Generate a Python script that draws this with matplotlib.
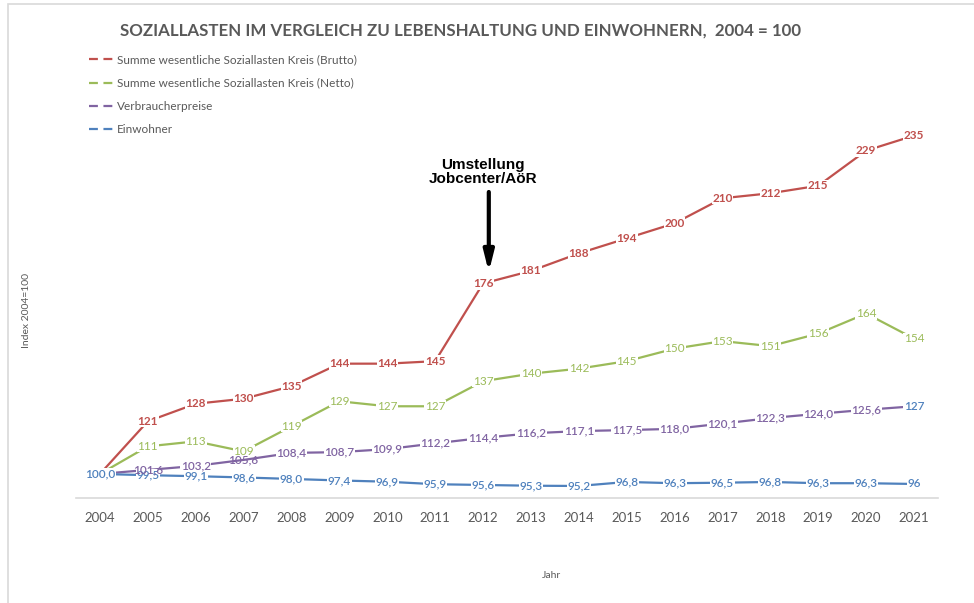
import matplotlib
matplotlib.use('Agg')
import matplotlib.pyplot as plt
from matplotlib.lines import Line2D
from matplotlib.patches import Rectangle

years = list(range(2004, 2022))
brutto = [100, 121, 128, 130, 135, 144, 144, 145, 176, 181, 188, 194, 200, 210, 212, 215, 229, 235]
netto = [100, 111, 113, 109, 119, 129, 127, 127, 137, 140, 142, 145, 150, 153, 151, 156, 164, 154]
vpi = [100.0, 101.6, 103.2, 105.6, 108.4, 108.7, 109.9, 112.2, 114.4, 116.2, 117.1, 117.5,
       118.0, 120.1, 122.3, 124.0, 125.6, 127]
einwohner = [100.0, 99.5, 99.1, 98.6, 98.0, 97.4, 96.9, 95.9, 95.6, 95.3, 95.2, 96.8,
             96.3, 96.5, 96.8, 96.3, 96.3, 96]
names = ['Summe wesentliche Soziallasten Kreis (Brutto)',
         'Summe wesentliche Soziallasten Kreis (Netto)',
         'Verbraucherpreise', 'Einwohner']
colors = ['#C0504D', '#9BBB59', '#8064A2', '#4F81BD']

plt.rcParams['font.family'] = ['Lato', 'DejaVu Sans']

fig = plt.figure(figsize=(9.74, 6.03), dpi=100)
fig.patches.append(Rectangle((8 / 974, -0.01), 1.0, 1 - 4 / 603 + 0.01, transform=fig.transFigure,
                             fill=False, edgecolor='#D9D9D9', linewidth=1.2))
ax = fig.add_axes([76 / 974, 1 - 498 / 603, (938 - 76) / 974, 400 / 603])


def fmt(v, dec, last):
    if not dec or last:
        return '%d' % round(v)
    return ('%.1f' % v).replace('.', ',')


# (values, decimals, weight, label z-order) - purple labels sit on top where they collide
series = [(brutto, False, 'bold', 6), (netto, False, 'normal', 6),
          (vpi, True, 'semibold', 7), (einwohner, True, 'semibold', 5)]
for i, (vals, dec, wt, z) in enumerate(series):
    c = colors[i]
    ax.plot(years, vals, color=c, lw=1.6, zorder=2, solid_capstyle='butt')
    for j, (x, v) in enumerate(zip(years, vals)):
        # the four series all start at 100 - only one label is readable there
        if j == 0 and i != 3:
            continue
        tc = c
        if i == 2 and j == len(vals) - 1:
            tc = colors[3]
        box = dict(boxstyle='square,pad=0.05', fc='white', ec='none')
        if i == 2 and j in (1, 3):
            box = None  # crowded spots: let the label sit over its neighbour
        ax.text(x, v, fmt(v, dec, j == len(vals) - 1), color=tc, fontsize=8.5, fontweight=wt,
                ha='center', va='center', zorder=z, bbox=box)

ax.set_xlim(2003.5, 2021.5)
ax.set_ylim(90.4, 250)
ax.set_xticks(years)
ax.set_xticklabels([str(y) for y in years], fontsize=9.5, color='#595959')
ax.tick_params(axis='x', length=0, pad=10)
ax.set_yticks([])
for s in ['top', 'right', 'left']:
    ax.spines[s].set_visible(False)
ax.spines['bottom'].set_color('#D9D9D9')
ax.spines['bottom'].set_linewidth(1.2)

ax.annotate('', xy=(2012.12, 180.5), xytext=(2012.12, 212.5),
            arrowprops=dict(arrowstyle='-|>,head_width=0.3,head_length=1.2', color='black', lw=3,
                            shrinkA=0, shrinkB=0))
ax.text(2012.0, 220.5, 'Umstellung\nJobcenter/AöR', family=['Liberation Sans'], fontweight='bold',
        fontsize=11, ha='center', va='center', linespacing=1.05)

handles = [Line2D([0], [0], color=c, lw=1.6, dashes=(4, 2.5)) for c in colors]
leg = fig.legend(handles, names, loc='upper left', bbox_to_anchor=(78 / 974, 1 - 44 / 603),
                 frameon=False, fontsize=8.5, handlelength=2.2, handletextpad=0.2, labelspacing=1.02)
for t in leg.get_texts():
    t.set_color('#595959')

fig.text(461 / 974, 1 - 31 / 603, 'SOZIALLASTEN IM VERGLEICH ZU LEBENSHALTUNG UND EINWOHNERN,  2004 = 100',
         ha='center', va='center', fontsize=12.2, fontweight='bold', color='#595959')
fig.text(27 / 974, 1 - 310 / 603, 'Index 2004=100', rotation=90, ha='center', va='center',
         fontsize=7.5, color='#595959')
fig.text(551 / 974, 1 - 576 / 603, 'Jahr', ha='center', va='center', fontsize=7.5, color='#595959')

fig.savefig('out.png', dpi=100)
